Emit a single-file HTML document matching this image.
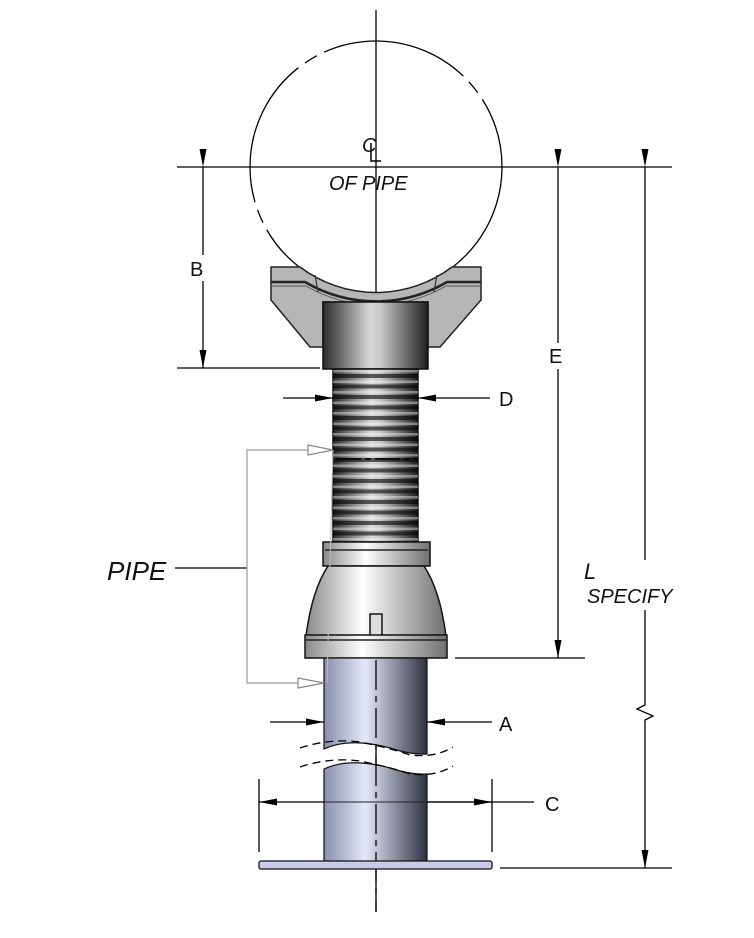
<!DOCTYPE html>
<html><head><meta charset="utf-8"><style>
html,body{margin:0;padding:0;background:#fff}
svg{display:block}
text{font-family:"Liberation Sans",sans-serif;fill:#111}
</style></head><body>
<svg width="754" height="938" viewBox="0 0 754 938" xmlns="http://www.w3.org/2000/svg">
<defs>
<linearGradient id="gm" x1="0" x2="1" y1="0" y2="0">
<stop offset="0" stop-color="#2a2a2a"/><stop offset="0.45" stop-color="#d8d8d8"/><stop offset="0.55" stop-color="#c8c8c8"/><stop offset="1" stop-color="#1e1e1e"/>
</linearGradient>
<linearGradient id="gl" x1="0" x2="1" y1="0" y2="0">
<stop offset="0" stop-color="#8a8a8a"/><stop offset="0.4" stop-color="#ffffff"/><stop offset="1" stop-color="#707070"/>
</linearGradient>
<linearGradient id="gp" x1="0" x2="1" y1="0" y2="0">
<stop offset="0" stop-color="#8890b0"/><stop offset="0.4" stop-color="#e4e8f8"/><stop offset="1" stop-color="#2e3140"/>
</linearGradient>
<pattern id="rib" x="0" y="369" width="10" height="10.5" patternUnits="userSpaceOnUse">
<rect y="5" width="10" height="4" fill="#000" fill-opacity="0.6"/>
<rect y="1" width="10" height="2.5" fill="#fff" fill-opacity="0.4"/>
</pattern>
<marker id="ar" viewBox="0 0 18 7" refX="18" refY="3.5" markerWidth="18" markerHeight="7" markerUnits="userSpaceOnUse" orient="auto"><path d="M0,0 L18,3.5 L0,7z" fill="#000"/></marker>
</defs>

<!-- pipe circle -->
<circle cx="376" cy="167" r="126" fill="none" stroke="#000" stroke-width="1.3" stroke-dasharray="150 8 14 8"/>

<!-- centerlines -->
<line x1="376" y1="10" x2="376" y2="912" stroke="#000" stroke-width="1.3"/>
<line x1="177" y1="167" x2="672" y2="167" stroke="#000" stroke-width="1.3"/>

<!-- saddle -->
<path d="M271,267 L300,267 A126,126 0 0 0 452,267 L481,267 L481,300 L440,347 L428,347 L428,302 L323,302 L323,347 L310,347 L271,300z" fill="#b6b6b6" stroke="#222" stroke-width="1.5"/>
<path d="M271,282 L305,282 A140,140 0 0 0 447,282 L481,282" fill="none" stroke="#222" stroke-width="2.5"/>
<path d="M271,286 L306,286 A140,140 0 0 0 446,286 L481,286" fill="none" stroke="#555" stroke-width="1"/>
<line x1="315" y1="275" x2="318" y2="292" stroke="#333" stroke-width="1.2"/>
<line x1="437" y1="275" x2="434" y2="292" stroke="#333" stroke-width="1.2"/>
<!-- center block -->
<rect x="323" y="302" width="105" height="67" fill="url(#gm)" stroke="#111" stroke-width="1.5"/>
<!-- threaded rod -->
<rect x="333" y="369" width="85" height="173" fill="url(#gm)" stroke="#111" stroke-width="1.5"/>
<rect x="333" y="369" width="85" height="173" fill="url(#rib)"/>
<line x1="336" y1="459" x2="416" y2="459" stroke="#000" stroke-width="1.5" stroke-dasharray="25 4 6 4"/>
<!-- collar -->
<rect x="323" y="542" width="107" height="24" fill="url(#gl)" stroke="#111" stroke-width="1.5"/>
<line x1="325" y1="550" x2="428" y2="550" stroke="#222" stroke-width="1.5"/>
<path d="M328,566 L424,566 Q440,590 446,636 L306,636 Q312,590 328,566z" fill="url(#gl)" stroke="#111" stroke-width="1.5"/>
<rect x="370" y="614" width="12" height="22" fill="#ddd" stroke="#111" stroke-width="1.5"/>
<rect x="305" y="635" width="142" height="23" fill="url(#gl)" stroke="#111" stroke-width="1.5"/>
<line x1="306" y1="640" x2="446" y2="640" stroke="#222" stroke-width="1.5"/>

<!-- pipe -->
<path d="M324,658 L427,658 L427,754 Q412,755 390,748 Q350,737 324,749z" fill="url(#gp)" stroke="#111" stroke-width="1.2"/>
<path d="M324,769 Q350,757 390,768 Q412,775 427,774 L427,862 L324,862z" fill="url(#gp)" stroke="#111" stroke-width="1.2"/>
<line x1="376" y1="660" x2="376" y2="912" stroke="#000" stroke-width="1.3" stroke-dasharray="30 6 6 6"/>
<path d="M300,748 Q330,738 360,742 Q390,748 410,755 Q435,758 453,747" fill="none" stroke="#000" stroke-width="1.3" stroke-dasharray="8 5"/>
<path d="M300,767 Q330,757 360,761 Q390,767 410,774 Q435,777 453,766" fill="none" stroke="#000" stroke-width="1.3" stroke-dasharray="8 5"/>
<rect x="259" y="861" width="233" height="8" rx="2" fill="#c8cce8" stroke="#111" stroke-width="1.3"/>

<!-- dimension B -->
<line x1="203" y1="167" x2="203" y2="368" stroke="#000" stroke-width="1.3" marker-start="url(#ar)" marker-end="url(#ar)"/>
<line x1="177" y1="368" x2="320" y2="368" stroke="#000" stroke-width="1.3"/>
<rect x="188" y="255" width="30" height="26" fill="#fff"/>
<text x="190" y="276" font-size="20">B</text>
<!-- E -->
<line x1="558" y1="167" x2="558" y2="658" stroke="#000" stroke-width="1.3" marker-start="url(#ar)" marker-end="url(#ar)"/>
<line x1="455" y1="658" x2="585" y2="658" stroke="#000" stroke-width="1.3"/>
<rect x="545" y="343" width="26" height="26" fill="#fff"/>
<text x="549" y="363" font-size="20">E</text>
<!-- L -->
<path d="M645,167 L645,705 L637,709 L653,716 L645,720 L645,868" fill="none" stroke="#000" stroke-width="1.3" marker-start="url(#ar)" marker-end="url(#ar)"/>
<line x1="500" y1="868" x2="672" y2="868" stroke="#000" stroke-width="1.3"/>
<rect x="585" y="560" width="100" height="50" fill="#fff"/>
<text x="584" y="579" font-size="22" font-style="italic">L</text>
<text x="587" y="603" font-size="20" font-style="italic">SPECIFY</text>
<!-- D -->
<line x1="283" y1="398" x2="333" y2="398" stroke="#000" stroke-width="1.3" marker-end="url(#ar)"/>
<line x1="490" y1="398" x2="418" y2="398" stroke="#000" stroke-width="1.3" marker-end="url(#ar)"/>
<text x="499" y="406" font-size="20">D</text>
<!-- A -->
<line x1="270" y1="722" x2="324" y2="722" stroke="#000" stroke-width="1.3" marker-end="url(#ar)"/>
<line x1="492" y1="722" x2="427" y2="722" stroke="#000" stroke-width="1.3" marker-end="url(#ar)"/>
<text x="499" y="731" font-size="20">A</text>
<!-- C -->
<line x1="259" y1="779" x2="259" y2="852" stroke="#000" stroke-width="1.3"/>
<line x1="492" y1="779" x2="492" y2="852" stroke="#000" stroke-width="1.3"/>
<line x1="324" y1="802" x2="259" y2="802" stroke="#000" stroke-width="1.3" marker-end="url(#ar)"/>
<line x1="427" y1="802" x2="492" y2="802" stroke="#000" stroke-width="1.3" marker-end="url(#ar)"/>
<line x1="427" y1="802" x2="534" y2="802" stroke="#000" stroke-width="1.3"/>
<line x1="324" y1="802" x2="427" y2="802" stroke="#222" stroke-width="1"/>
<text x="545" y="811" font-size="20">C</text>

<!-- PIPE leader -->
<text x="107" y="580" font-size="26" font-style="italic">PIPE</text>
<line x1="175" y1="568" x2="247" y2="568" stroke="#000" stroke-width="1.3"/>
<path d="M308,450 L247,450 L247,683 L298,683" fill="none" stroke="#999" stroke-width="1.2"/>
<path d="M308,445 L333,450 L308,455z" fill="#fff" stroke="#888" stroke-width="1.2"/>
<path d="M298,678 L324,683 L298,688z" fill="#fff" stroke="#888" stroke-width="1.2"/>
<line x1="333" y1="450" x2="327" y2="683" stroke="#bbb" stroke-width="1"/>

<!-- CL label -->
<text x="362" y="152" font-size="20" font-style="italic">C</text>
<path d="M371,143 L371,161 L381,161" fill="none" stroke="#000" stroke-width="1.5"/>
<text x="329" y="190" font-size="20" font-style="italic">OF PIPE</text>
</svg>
</body></html>
